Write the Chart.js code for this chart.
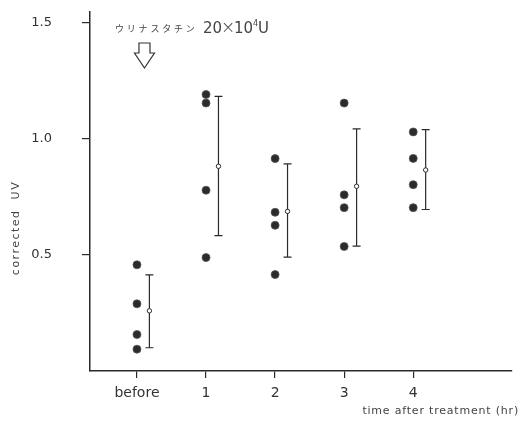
<!DOCTYPE html>
<html lang="ja">
<head>
<meta charset="UTF-8">
<title>corrected UV after treatment</title>
<script src="https://cdn.jsdelivr.net/npm/chart.js"></script>
<style>
  html, body { margin: 0; padding: 0; background: #fff; }
  #wrap { width: 528px; height: 423px; }
</style>
</head>
<body>
<div id="wrap"><canvas id="uvChart"></canvas></div>
<script>
// categories on the x axis
const groups = ['before', '1', '2', '3', '4'];

// individual measurements, one array per group
const valsBefore = [0.457, 0.289, 0.157, 0.094];
const vals1 = [1.190, 1.153, 0.778, 0.488];
const vals2 = [0.914, 0.683, 0.627, 0.415];
const vals3 = [1.153, 0.758, 0.703, 0.536];
const vals4 = [1.029, 0.915, 0.802, 0.703];
const individual = [valsBefore, vals1, vals2, vals3, vals4];

// mean and error bar ends per group
const means = [0.259, 0.881, 0.687, 0.795, 0.865];
const errHigh = [0.414, 1.182, 0.891, 1.042, 1.039];
const errLow = [0.100, 0.583, 0.490, 0.537, 0.695];

// y tick labels
const yTicks = [0.5, 1.0, 1.5];

const FONT = 'DejaVu Sans';
const INK = '#2a2a2a';
const BAR_SHIFT = 0.18; // mean/error bar sits right of the dots

const dotPoints = [];
individual.forEach((arr, i) => arr.forEach(v => dotPoints.push({ x: i, y: v })));
const meanPoints = means.map((m, i) => ({ x: i + BAR_SHIFT, y: m }));

// draws error bars, axis titles and the dosing annotation
const extras = {
  id: 'extras',
  beforeDatasetsDraw(chart) {
    const { ctx, scales: { x, y } } = chart;
    ctx.save();
    ctx.strokeStyle = INK;
    ctx.lineWidth = 1.2;
    means.forEach((m, i) => {
      const px = x.getPixelForValue(i + BAR_SHIFT);
      const top = y.getPixelForValue(errHigh[i]);
      const bot = y.getPixelForValue(errLow[i]);
      ctx.beginPath();
      ctx.moveTo(px, top); ctx.lineTo(px, bot);
      ctx.moveTo(px - 4, top); ctx.lineTo(px + 4, top);
      ctx.moveTo(px - 4, bot); ctx.lineTo(px + 4, bot);
      ctx.stroke();
    });
    ctx.restore();
  },
  afterDraw(chart) {
    const { ctx, chartArea, scales: { x } } = chart;
    ctx.save();
    ctx.fillStyle = '#444';

    // y axis title
    ctx.translate(16, 228);
    ctx.rotate(-Math.PI / 2);
    ctx.font = '11px "' + FONT + '"';
    ctx.textAlign = 'center';
    ctx.textBaseline = 'middle';
    ctx.letterSpacing = '1.5px';
    ctx.fillText('corrected  UV', 0, 0);
    ctx.setTransform(1, 0, 0, 1, 0, 0);

    // x axis title, bottom right
    ctx.font = '11px "' + FONT + '"';
    ctx.letterSpacing = '0.8px';
    ctx.textAlign = 'right';
    ctx.fillText('time after treatment (hr)', 519, 411);
    ctx.letterSpacing = '0px';

    // annotation text
    const jp = 'ウリナスタチン';
    ctx.font = '9px "Noto Sans CJK JP"';
    ctx.textAlign = 'center';
    let tx = 119.5;
    for (const ch of jp) {
      ctx.fillText(ch, tx, 29);
      tx += 11.8;
    }
    ctx.textAlign = 'left';
    ctx.font = '15px "' + FONT + '"';
    ctx.fillText('20', 203, 29);
    ctx.font = '300 17px "' + FONT + '"';
    ctx.fillText('×', 221, 29);
    ctx.font = '15px "' + FONT + '"';
    ctx.fillText('10', 234, 29);
    ctx.font = '8px "' + FONT + '"';
    ctx.fillText('4', 253, 24);
    ctx.font = '15px "' + FONT + '"';
    ctx.fillText('U', 258, 29);

    // open arrow pointing down at "before"
    const ax = x.getPixelForValue(0) + 7.5;
    const at = chartArea.top + 31;
    ctx.strokeStyle = '#333';
    ctx.lineWidth = 1.2;
    ctx.beginPath();
    ctx.moveTo(ax - 5.5, at);
    ctx.lineTo(ax + 5.5, at);
    ctx.lineTo(ax + 5.5, at + 10);
    ctx.lineTo(ax + 10, at + 10);
    ctx.lineTo(ax, at + 25);
    ctx.lineTo(ax - 10, at + 10);
    ctx.lineTo(ax - 5.5, at + 10);
    ctx.closePath();
    ctx.stroke();
    ctx.restore();
  }
};

new Chart(document.getElementById('uvChart'), {
  type: 'scatter',
  data: {
    datasets: [
      {
        label: 'individual',
        data: dotPoints,
        pointRadius: 4,
        pointHoverRadius: 4,
        backgroundColor: '#2b2b2b',
        borderColor: '#555',
        borderWidth: 0.8
      },
      {
        label: 'mean',
        data: meanPoints,
        pointRadius: 2.2,
        pointHoverRadius: 2.2,
        backgroundColor: '#fff',
        borderColor: INK,
        borderWidth: 1
      }
    ]
  },
  options: {
    responsive: true,
    maintainAspectRatio: false,
    animation: false,
    layout: { padding: { top: 12, right: 16, left: 0, bottom: 0 } },
    plugins: { legend: { display: false }, tooltip: { enabled: false } },
    scales: {
      x: {
        type: 'linear',
        min: -0.68,
        max: 5.43,
        afterBuildTicks(scale) {
          scale.ticks = groups.map((g, i) => ({ value: i }));
        },
        afterFit(scale) {
          scale.height = 52;
          scale.paddingLeft = 0;
          scale.paddingRight = 0;
        },
        ticks: {
          callback: (v) => groups[v],
          font: { family: FONT, size: 14 },
          color: '#333',
          padding: 7,
          maxRotation: 0
        },
        grid: { drawOnChartArea: false, tickLength: 7, color: INK, lineWidth: 1.2 },
        border: { color: INK, width: 1.5 }
      },
      y: {
        min: 0,
        max: 1.545,
        afterBuildTicks(scale) {
          scale.ticks = yTicks.map(v => ({ value: v }));
        },
        afterFit(scale) {
          scale.width = 90;
          scale.paddingTop = 0;
          scale.paddingBottom = 0;
        },
        ticks: {
          callback: (v) => v.toFixed(1),
          font: { family: FONT, size: 13 },
          color: '#333',
          padding: 30
        },
        grid: { drawOnChartArea: false, tickLength: 8, color: INK, lineWidth: 1.2 },
        border: { color: INK, width: 1.5 }
      }
    }
  },
  plugins: [extras]
});
</script>
</body>
</html>
